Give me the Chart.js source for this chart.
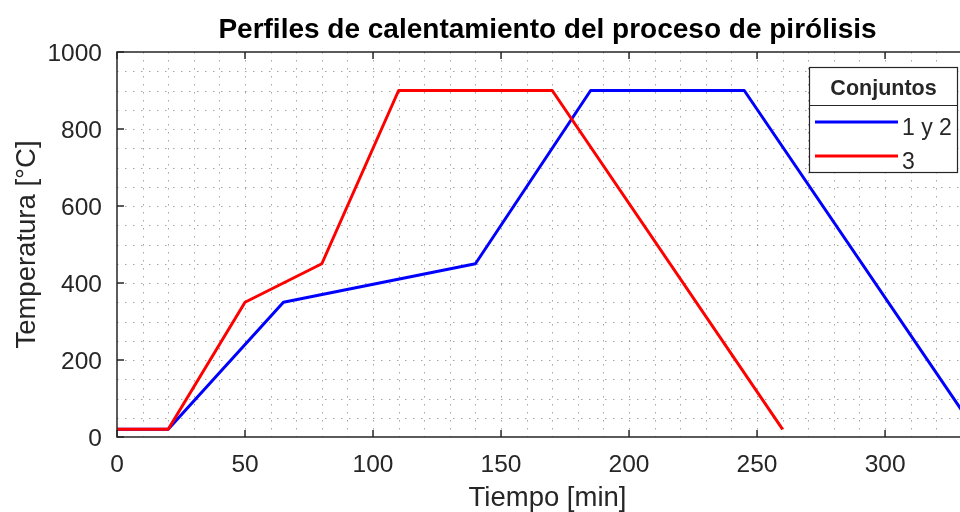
<!DOCTYPE html>
<html lang="es">
<head>
<meta charset="utf-8">
<title>Perfiles de calentamiento del proceso de pirólisis</title>
<script src="https://cdn.jsdelivr.net/npm/chart.js@4.4.1/dist/chart.umd.min.js"></script>
<style>
  html, body { margin: 0; padding: 0; background: #ffffff; overflow: hidden; }
  #wrap { width: 980px; height: 512px; }
</style>
</head>
<body>
<div id="wrap"><canvas id="grafico" width="980" height="512"></canvas></div>
<script>
// Perfiles de temperatura (min, °C)
const tiempoConj12 = [0, 20, 65, 140, 185, 245, 335];
const tempConj12   = [20, 20, 350, 450, 900, 900, 20];
const tiempoConj3  = [0, 20, 50, 80, 110, 170, 260];
const tempConj3    = [20, 20, 350, 450, 900, 900, 20];

const nombresSeries = ['1 y 2', '3'];
const tituloLeyenda = 'Conjuntos';
const tituloGrafico = 'Perfiles de calentamiento del proceso de pirólisis';
const etiquetaX = 'Tiempo [min]';
const etiquetaY = 'Temperatura [°C]';

const limitesX = [0, 336.3];
const limitesY = [0, 1000];
const pasoX = 50, pasoY = 200;
const pasoMenorX = 10, pasoMenorY = 50;

const FUENTE = '"Liberation Sans", Arial, Helvetica, sans-serif';
const GRIS = '#262626';

const puntos = (xs, ys) => xs.map((x, i) => ({ x: x, y: ys[i] }));

// Rejilla punteada (mayor y menor)
const rejilla = {
  id: 'rejilla',
  beforeDatasetsDraw(chart) {
    const { ctx, chartArea: a, scales: { x, y } } = chart;
    ctx.save();
    ctx.strokeStyle = 'rgba(38,38,38,0.42)';
    ctx.lineWidth = 1;
    ctx.setLineDash([1.5, 6.5]);
    for (let v = limitesX[0] + pasoMenorX; v < limitesX[1]; v += pasoMenorX) {
      const px = Math.round(x.getPixelForValue(v)) + 0.5;
      ctx.beginPath(); ctx.moveTo(px, a.top); ctx.lineTo(px, a.bottom); ctx.stroke();
    }
    for (let v = limitesY[0] + pasoMenorY; v < limitesY[1]; v += pasoMenorY) {
      const py = Math.round(y.getPixelForValue(v)) + 0.5;
      ctx.beginPath(); ctx.moveTo(a.left, py); ctx.lineTo(a.right, py); ctx.stroke();
    }
    ctx.restore();
  }
};

// Caja de ejes con marcas hacia dentro
const caja = {
  id: 'caja',
  afterDatasetsDraw(chart) {
    const { ctx, chartArea: a, scales: { x, y } } = chart;
    const L = 7;
    ctx.save();
    ctx.strokeStyle = GRIS;
    ctx.lineWidth = 1.5;
    ctx.beginPath();
    ctx.rect(a.left, a.top, a.right - a.left, a.bottom - a.top);
    ctx.stroke();
    ctx.beginPath();
    x.ticks.forEach(t => {
      const px = x.getPixelForValue(t.value);
      ctx.moveTo(px, a.bottom); ctx.lineTo(px, a.bottom - L);
      ctx.moveTo(px, a.top); ctx.lineTo(px, a.top + L);
    });
    y.ticks.forEach(t => {
      const py = y.getPixelForValue(t.value);
      ctx.moveTo(a.left, py); ctx.lineTo(a.left + L, py);
      ctx.moveTo(a.right, py); ctx.lineTo(a.right - L, py);
    });
    ctx.stroke();
    ctx.restore();
  }
};

// Título centrado sobre el área de trazado
const titulo = {
  id: 'titulo',
  afterDraw(chart) {
    const { ctx, chartArea: a } = chart;
    ctx.save();
    ctx.font = 'bold 28px ' + FUENTE;
    ctx.fillStyle = '#000000';
    ctx.textAlign = 'center';
    ctx.textBaseline = 'alphabetic';
    ctx.fillText(tituloGrafico, (a.left + a.right) / 2, 38);
    ctx.restore();
  }
};

// Leyenda con título dentro del área de trazado
const leyenda = {
  id: 'leyenda',
  afterDraw(chart) {
    const { ctx } = chart;
    const x0 = 809.5, y0 = 67.5, w = 148, h = 105, sep = 105.5;
    ctx.save();
    ctx.fillStyle = '#ffffff';
    ctx.fillRect(x0, y0, w, h);
    ctx.strokeStyle = GRIS;
    ctx.lineWidth = 1.2;
    ctx.strokeRect(x0, y0, w, h);
    ctx.beginPath(); ctx.moveTo(x0, sep); ctx.lineTo(x0 + w, sep); ctx.stroke();
    ctx.fillStyle = GRIS;
    ctx.font = 'bold 21.5px ' + FUENTE;
    ctx.textAlign = 'center';
    ctx.textBaseline = 'alphabetic';
    ctx.fillText(tituloLeyenda, x0 + w / 2, 95);
    ctx.font = '23px ' + FUENTE;
    ctx.textAlign = 'left';
    const filas = [122, 156];
    chart.data.datasets.forEach((ds, i) => {
      const yy = filas[i];
      ctx.strokeStyle = ds.borderColor;
      ctx.lineWidth = ds.borderWidth;
      ctx.beginPath(); ctx.moveTo(815, yy); ctx.lineTo(898, yy); ctx.stroke();
      ctx.fillStyle = GRIS;
      ctx.fillText(ds.label, 902, yy + 13);
    });
    ctx.restore();
  }
};

new Chart(document.getElementById('grafico'), {
  type: 'line',
  data: {
    datasets: [
      { label: nombresSeries[0], data: puntos(tiempoConj12, tempConj12),
        borderColor: '#0000ff', borderWidth: 3, order: 1 },
      { label: nombresSeries[1], data: puntos(tiempoConj3, tempConj3),
        borderColor: '#ff0000', borderWidth: 3, order: 0 }
    ]
  },
  options: {
    responsive: false,
    animation: false,
    devicePixelRatio: 1,
    events: [],
    layout: { padding: { top: 52, right: 2, left: 0, bottom: 0 } },
    elements: {
      point: { radius: 0 },
      line: { tension: 0, fill: false, borderJoinStyle: 'round', borderCapStyle: 'butt' }
    },
    plugins: { legend: { display: false }, title: { display: false }, tooltip: { enabled: false } },
    scales: {
      x: {
        type: 'linear', min: limitesX[0], max: limitesX[1],
        grid: { display: false, drawTicks: false },
        border: { display: false },
        ticks: { stepSize: pasoX, includeBounds: false, autoSkip: false, maxRotation: 0,
                 color: GRIS, padding: 14, font: { family: FUENTE, size: 24.5 },
                 callback: v => String(v) },
        title: { display: true, text: etiquetaX, color: GRIS,
                 font: { family: FUENTE, size: 27.5, lineHeight: 1.0 }, padding: { top: 0, bottom: 0 } },
        afterFit(s) { s.height = 75; }
      },
      y: {
        min: limitesY[0], max: limitesY[1],
        grid: { display: false, drawTicks: false },
        border: { display: false },
        ticks: { stepSize: pasoY, color: GRIS, padding: 15, labelOffset: 2,
                 font: { family: FUENTE, size: 24.5 }, callback: v => String(v) },
        title: { display: true, text: etiquetaY, color: GRIS,
                 font: { family: FUENTE, size: 27.5, lineHeight: 1.0 }, padding: { top: 14, bottom: 0 } },
        afterFit(s) { s.width = 117; }
      }
    }
  },
  plugins: [rejilla, caja, titulo, leyenda]
});
</script>
</body>
</html>
